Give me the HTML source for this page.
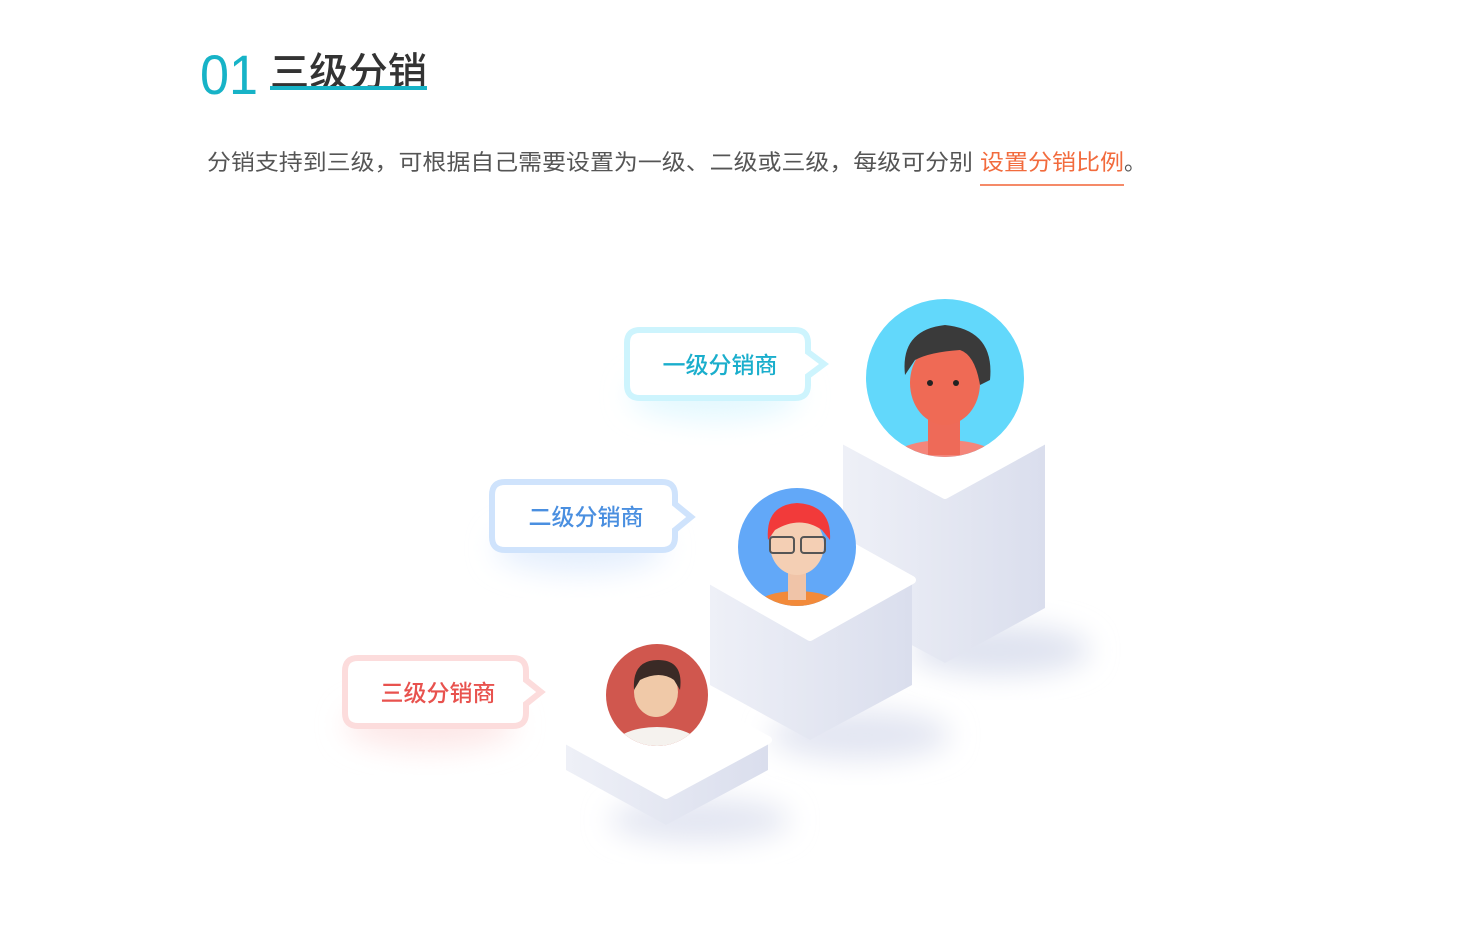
<!DOCTYPE html>
<html><head><meta charset="utf-8"><style>
html,body{margin:0;padding:0;background:#fff;width:1477px;height:941px;overflow:hidden}
svg{display:block}
text{font-family:"Liberation Sans","Noto Sans CJK SC",sans-serif}
</style></head><body>
<svg width="1477" height="941" viewBox="0 0 1477 941" xmlns="http://www.w3.org/2000/svg">
<defs>
<linearGradient id="sl" x1="0" x2="1"><stop offset="0" stop-color="#eef0f7"/><stop offset="1" stop-color="#e4e7f2"/></linearGradient>
<linearGradient id="sr" x1="0" x2="1"><stop offset="0" stop-color="#e4e7f2"/><stop offset="1" stop-color="#dadeed"/></linearGradient>
<filter id="bl" x="-50%" y="-50%" width="200%" height="200%"><feGaussianBlur stdDeviation="14"/></filter>
</defs>

<text x="200" y="94" font-size="56" fill="#17b3c7" font-weight="300" textLength="58" lengthAdjust="spacingAndGlyphs">01</text>
<text x="270" y="86" font-size="40" fill="#333" font-weight="500" textLength="157" lengthAdjust="spacingAndGlyphs">三级分销</text>
<rect x="270" y="86" width="157" height="4" fill="#17b3c7"/>
<text x="207" y="170" font-size="22" fill="#555" textLength="766" lengthAdjust="spacingAndGlyphs">分销支持到三级，可根据自己需要设置为一级、二级或三级，每级可分别</text>
<text x="980" y="170" font-size="22" fill="#f26b3d" textLength="144" lengthAdjust="spacingAndGlyphs">设置分销比例</text>
<text x="1124" y="170" font-size="22" fill="#555">。</text>
<rect x="980" y="184" width="144" height="2" fill="#f58a68"/>

<!-- shadows -->
<ellipse cx="1000" cy="650" rx="90" ry="25" fill="#dfe3f0" filter="url(#bl)"/>
<ellipse cx="860" cy="735" rx="90" ry="25" fill="#e3e6f2" filter="url(#bl)"/>
<ellipse cx="700" cy="820" rx="90" ry="22" fill="#e3e6f2" filter="url(#bl)"/>
<ellipse cx="715" cy="395" rx="85" ry="25" fill="#e3f8fe" filter="url(#bl)"/>
<ellipse cx="580" cy="548" rx="85" ry="25" fill="#e5effd" filter="url(#bl)"/>
<ellipse cx="430" cy="725" rx="85" ry="25" fill="#fde8e8" filter="url(#bl)"/>

<!-- block1 -->
<polygon points="843,440 945,495 945,663 843,608" fill="url(#sl)"/>
<polygon points="945,495 1045,440 1045,608 945,663" fill="url(#sr)"/>
<polygon points="843,440 945,383 1045,440 945,495" fill="#fff" stroke="#fff" stroke-width="8" stroke-linejoin="round"/>
<!-- block2 -->
<polygon points="710,580 810,637 810,740 710,685" fill="url(#sl)"/>
<polygon points="810,637 912,580 912,685 810,740" fill="url(#sr)"/>
<polygon points="710,580 810,523 912,580 810,637" fill="#fff" stroke="#fff" stroke-width="8" stroke-linejoin="round"/>
<!-- block3 -->
<polygon points="566,740 666,795 666,825 566,770" fill="url(#sl)"/>
<polygon points="666,795 768,740 768,770 666,825" fill="url(#sr)"/>
<polygon points="566,740 666,685 768,740 666,795" fill="#fff" stroke="#fff" stroke-width="8" stroke-linejoin="round"/>

<!-- avatar1 -->
<clipPath id="c1"><circle cx="945" cy="378" r="79"/></clipPath>
<circle cx="945" cy="378" r="79" fill="#62d8fb"/>
<g clip-path="url(#c1)">
<ellipse cx="945" cy="465" rx="60" ry="25" fill="#f4857a"/>
<rect x="928" y="410" width="32" height="45" fill="#ee6a58"/>
<ellipse cx="945" cy="383" rx="35" ry="42" fill="#ef6a55"/>
<path d="M905 375 Q900 330 945 325 Q995 330 990 380 L980 385 Q975 355 960 350 Q930 352 915 360 Z" fill="#3a3a3a"/>
<circle cx="930" cy="383" r="3" fill="#222"/><circle cx="956" cy="383" r="3" fill="#222"/>
</g>
<!-- avatar2 -->
<clipPath id="c2"><circle cx="797" cy="547" r="59"/></clipPath>
<circle cx="797" cy="547" r="59" fill="#62a8f8"/>
<g clip-path="url(#c2)">
<ellipse cx="797" cy="605" rx="40" ry="14" fill="#f28a3a"/>
<rect x="788" y="570" width="18" height="30" fill="#f0c4a8"/>
<ellipse cx="797" cy="545" rx="27" ry="30" fill="#f4cfb4"/>
<path d="M768 540 Q765 505 797 503 Q832 505 830 540 L822 530 Q800 515 775 530 Z" fill="#f23a3a"/>
<rect x="770" y="537" width="24" height="16" rx="3" fill="none" stroke="#555" stroke-width="2"/>
<rect x="801" y="537" width="24" height="16" rx="3" fill="none" stroke="#555" stroke-width="2"/>
</g>
<!-- avatar3 -->
<clipPath id="c3"><circle cx="657" cy="695" r="51"/></clipPath>
<circle cx="657" cy="695" r="51" fill="#d0574e"/>
<g clip-path="url(#c3)">
<ellipse cx="657" cy="745" rx="42" ry="18" fill="#f5f2ee"/>
<ellipse cx="656" cy="692" rx="22" ry="25" fill="#f0c9a8"/>
<path d="M634 690 Q632 660 658 660 Q684 660 680 690 L674 680 Q660 670 640 680 Z" fill="#3a2a26"/>
</g>

<!-- bubbles -->
<g>
<path d="M640 330 H795 Q808 330 808 343 V352 L824 364 L808 376 V385 Q808 398 795 398 H640 Q627 398 627 385 V343 Q627 330 640 330 Z" fill="#fff" stroke="#cdf4fd" stroke-width="6"/>
<text x="720" y="373" font-size="23" font-weight="500" fill="#1aaecc" text-anchor="middle">一级分销商</text>
</g>
<g>
<path d="M505 482 H662 Q675 482 675 495 V504 L691 517 L675 530 V537 Q675 550 662 550 H505 Q492 550 492 537 V495 Q492 482 505 482 Z" fill="#fff" stroke="#cfe3fc" stroke-width="6"/>
<text x="586" y="525" font-size="23" font-weight="500" fill="#4a8fe0" text-anchor="middle">二级分销商</text>
</g>
<g>
<path d="M358 658 H513 Q526 658 526 671 V680 L541 692 L526 704 V713 Q526 726 513 726 H358 Q345 726 345 713 V671 Q345 658 358 658 Z" fill="#fff" stroke="#fcdcdc" stroke-width="6"/>
<text x="438" y="701" font-size="23" font-weight="500" fill="#e8524e" text-anchor="middle">三级分销商</text>
</g>
</svg>
</body></html>
